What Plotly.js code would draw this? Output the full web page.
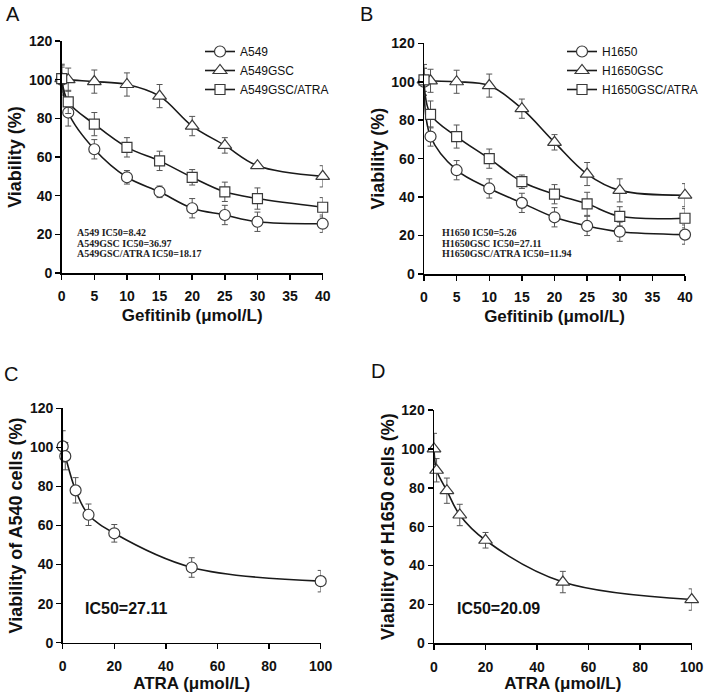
<!DOCTYPE html>
<html>
<head>
<meta charset="utf-8">
<script src="https://cdn.plot.ly/plotly-3.0.1.min.js"></script>
<style>
html, body { margin: 0; padding: 0; background: #ffffff; }
#chart { width: 709px; height: 693px; }
</style>
</head>
<body>
<div id="chart"></div>
<script>
// ---------- data ----------
const doseGef = [0, 1, 5, 10, 15, 20, 25, 30, 40];
const doseAtra = [0, 1, 5, 10, 20, 50, 100];

// Panel A
const nameA549 = 'A549';
const nameA549GSC = 'A549GSC';
const nameA549ATRA = 'A549GSC/ATRA';
const a549 = [100, 83, 64, 49.5, 42, 33.5, 30, 26.5, 25.5];
const a549Err = [8, 7, 5, 3.5, 3, 5, 5, 5, 4.5];
const a549gsc = [100.5, 100, 99, 97.5, 91.5, 76, 66, 55.5, 50];
const a549gscErr = [7, 6, 6, 6, 6, 5, 4, 1, 5.5];
const a549atra = [100.5, 88.5, 77, 65, 58, 49.5, 42, 38.5, 34];
const a549atraErr = [6, 6, 6, 5, 5, 4, 5, 5.5, 5];

// Panel B
const nameH1650 = 'H1650';
const nameH1650GSC = 'H1650GSC';
const nameH1650ATRA = 'H1650GSC/ATRA';
const h1650 = [100, 71.5, 54, 44.5, 37, 29.5, 25, 22, 20.5];
const h1650Err = [7, 5, 5, 5, 5, 5, 5, 5, 5];
const h1650gsc = [101, 100.5, 100, 98, 86, 68.5, 52, 43.5, 41];
const h1650gscErr = [8, 6, 6, 6, 5, 4, 6, 6, 6];
const h1650atra = [101, 83, 71.5, 60, 48, 41.5, 36.5, 30, 29];
const h1650atraErr = [6, 7, 6, 5, 3.5, 5, 6, 5, 5];

// Panel C and D
const a540Atra = [100.5, 95.5, 78, 65.5, 56, 38.5, 31.5];
const a540AtraErr = [8, 7, 6.5, 5.5, 4.5, 5, 5.5];
const h1650Atra = [100, 89, 78.5, 66, 53, 31.5, 22.5];
const h1650AtraErr = [8, 6, 6.5, 5.5, 4, 5.5, 5.5];

// Text
const ic50TextA = ['A549 IC50=8.42', 'A549GSC IC50=36.97', 'A549GSC/ATRA IC50=18.17'];
const ic50TextB = ['H1650 IC50=5.26', 'H1650GSC IC50=27.11', 'H1650GSC/ATRA IC50=11.94'];
const ic50TextC = 'IC50=27.11';
const ic50TextD = 'IC50=20.09';
const panelLetters = ['A', 'B', 'C', 'D'];
const gefTitle = 'Gefitinib (μmol/L)';
const atraTitle = 'ATRA (μmol/L)';
const viaTitle = 'Viability (%)';
const viaTitleC = 'Viability of A540 cells (%)';
const viaTitleD = 'Viability of H1650 cells (%)';

// ---------- styling ----------
const W = 709, H = 693;
const SANS = 'Liberation Sans, Arial, sans-serif';
const SERIF = 'Liberation Serif, Times New Roman, serif';
const lineCol = '#1a1a1a';
const mkCol = '#3a3a3a';
const errCol = '#555555';

function series(x, y, err, name, symbol, size, xa, ya, legend, showlegend) {
  return {
    type: 'scatter', mode: 'lines+markers', x: x, y: y, name: name,
    xaxis: xa, yaxis: ya, legend: legend, showlegend: showlegend,
    cliponaxis: false,
    line: { color: lineCol, width: 1.6, shape: 'spline', smoothing: 1 },
    marker: { symbol: symbol, size: size, color: '#ffffff', line: { color: mkCol, width: 1.2 } },
    error_y: { type: 'data', array: err, visible: true, color: errCol, thickness: 1, width: 3 }
  };
}

const traces = [
  series(doseGef, a549, a549Err, nameA549, 'circle', 11, 'x', 'y', 'legend', true),
  series(doseGef, a549gsc, a549gscErr, nameA549GSC, 'triangle-up', 12, 'x', 'y', 'legend', true),
  series(doseGef, a549atra, a549atraErr, nameA549ATRA, 'square', 10, 'x', 'y', 'legend', true),
  series(doseGef, h1650, h1650Err, nameH1650, 'circle', 11, 'x2', 'y2', 'legend2', true),
  series(doseGef, h1650gsc, h1650gscErr, nameH1650GSC, 'triangle-up', 12, 'x2', 'y2', 'legend2', true),
  series(doseGef, h1650atra, h1650atraErr, nameH1650ATRA, 'square', 10, 'x2', 'y2', 'legend2', true),
  series(doseAtra, a540Atra, a540AtraErr, 'A540', 'circle', 11, 'x3', 'y3', 'legend', false),
  series(doseAtra, h1650Atra, h1650AtraErr, 'H1650', 'triangle-up', 12, 'x4', 'y4', 'legend', false)
];

function px2x(p) { return p / W; }
function px2y(p) { return 1 - p / H; }

const tickFont = { family: SANS, size: 14, color: '#111', weight: 700 };

function xAxis(dom, anchor, range, dtick, title) {
  return {
    domain: dom, anchor: anchor, range: range, dtick: dtick, tick0: 0,
    showline: true, linecolor: '#000', linewidth: 1.5, mirror: false,
    showgrid: false, zeroline: false,
    ticks: 'outside', ticklen: 5, tickwidth: 1.5, tickcolor: '#000',
    ticklabelstandoff: 5,
    tickfont: tickFont,
    title: { text: title, standoff: 6, font: { family: SANS, size: 17, color: '#111', weight: 700 } },
    fixedrange: true
  };
}
function yAxis(dom, anchor, title) {
  return {
    domain: dom, anchor: anchor, range: [0, 120], dtick: 20, tick0: 0,
    showline: true, linecolor: '#000', linewidth: 1.5, mirror: false,
    showgrid: false, zeroline: false,
    ticks: 'outside', ticklen: 5, tickwidth: 1.5, tickcolor: '#000',
    tickfont: tickFont,
    title: { text: title, standoff: 2, font: { family: SANS, size: 18, color: '#111', weight: 700 } },
    fixedrange: true
  };
}

const layout = {
  width: W, height: H,
  margin: { l: 0, r: 0, t: 0, b: 0 },
  paper_bgcolor: '#ffffff', plot_bgcolor: '#ffffff',
  showlegend: true,
  xaxis: xAxis([px2x(61.7), px2x(322.7)], 'y', [0, 40], 5, gefTitle),
  yaxis: yAxis([px2y(273), px2y(41)], 'x', viaTitle),
  xaxis2: xAxis([px2x(424), px2x(685)], 'y2', [0, 40], 5, gefTitle),
  yaxis2: yAxis([px2y(274), px2y(43.3)], 'x2', viaTitle),
  xaxis3: xAxis([px2x(62.7), px2x(320.7)], 'y3', [0, 100], 20, atraTitle),
  yaxis3: yAxis([px2y(642.7), px2y(408.3)], 'x3', viaTitleC),
  xaxis4: xAxis([px2x(434), px2x(691.7)], 'y4', [0, 100], 20, atraTitle),
  yaxis4: yAxis([px2y(643.3), px2y(410)], 'x4', viaTitleD),
  legend: {
    x: px2x(200), y: px2y(37), xanchor: 'left', yanchor: 'top',
    bgcolor: 'rgba(0,0,0,0)', borderwidth: 0, tracegroupgap: 0,
    font: { family: SANS, size: 12, color: '#111' }
  },
  legend2: {
    x: px2x(562), y: px2y(37), xanchor: 'left', yanchor: 'top',
    bgcolor: 'rgba(0,0,0,0)', borderwidth: 0, tracegroupgap: 0,
    font: { family: SANS, size: 12, color: '#111' }
  },
  annotations: []
};

// panel letters
const letterPos = [[12.5, 14], [366, 14], [11, 374], [378, 371]];
panelLetters.forEach(function (t, i) {
  layout.annotations.push({
    text: t, xref: 'paper', yref: 'paper', x: px2x(letterPos[i][0]), y: px2y(letterPos[i][1]),
    xanchor: 'center', yanchor: 'middle', showarrow: false,
    font: { family: SANS, size: 20, color: '#111' }
  });
});
// IC50 small texts
const icRowsY = [232.5, 243, 253.5];
ic50TextA.forEach(function (t, i) {
  layout.annotations.push({
    text: t, xref: 'paper', yref: 'paper', x: px2x(76), y: px2y(icRowsY[i]),
    xanchor: 'left', yanchor: 'middle', showarrow: false, borderpad: 0,
    font: { family: SERIF, size: 10, color: '#222', weight: 700 }
  });
});
ic50TextB.forEach(function (t, i) {
  layout.annotations.push({
    text: t, xref: 'paper', yref: 'paper', x: px2x(441), y: px2y(icRowsY[i]),
    xanchor: 'left', yanchor: 'middle', showarrow: false, borderpad: 0,
    font: { family: SERIF, size: 10, color: '#222', weight: 700 }
  });
});
layout.annotations.push({
  text: ic50TextC, xref: 'paper', yref: 'paper', x: px2x(83), y: px2y(608),
  xanchor: 'left', yanchor: 'middle', showarrow: false,
  font: { family: SANS, size: 16, color: '#111', weight: 700 }
});
layout.annotations.push({
  text: ic50TextD, xref: 'paper', yref: 'paper', x: px2x(455), y: px2y(608),
  xanchor: 'left', yanchor: 'middle', showarrow: false,
  font: { family: SANS, size: 16, color: '#111', weight: 700 }
});

Plotly.newPlot('chart', traces, layout, { displayModeBar: false, staticPlot: true });
</script>
</body>
</html>
